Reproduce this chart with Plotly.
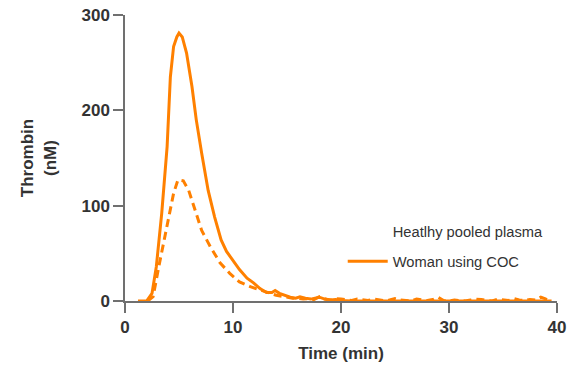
import plotly.graph_objects as go

# Woman using COC (solid)
coc_t = [1.2, 2.0, 2.5, 2.9, 3.4, 3.9, 4.2, 4.5, 4.8, 5.0, 5.3, 5.7, 6.2, 6.6, 7.1, 7.7, 8.3,
         8.9, 9.4, 10.0, 10.6, 11.3, 11.9, 12.5, 13.1, 13.6, 13.9, 14.3, 14.8, 15.3, 15.8,
         16.2, 16.7, 17.2, 17.6, 18.0, 18.5, 19.0, 19.5, 20.0, 21.0, 22.0, 23.0, 24.0,
         25.0, 26.0, 27.0, 28.0, 29.0, 30.0, 31.0, 32.0, 33.0, 34.0, 35.0, 36.0, 37.0,
         38.0, 39.0, 39.5]
coc_v = [0, 0, 8, 36, 92, 162, 235, 267, 277, 281, 277, 260, 225, 190, 155, 116, 88,
         64, 52, 43, 33, 24, 19, 13, 9, 9, 11, 8, 6, 4, 3,
         4.5, 3, 2, 3, 4, 2, 1, 1.5, 0.5, 0, 0, 0, 0,
         0, 0, 0, 0, 0, 0, 0, 0, 0, 0, 0, 0, 0,
         0, 0, 0]

# Healthy pooled plasma (dashed)
hpp_t = [2.1, 2.6, 3.2, 3.9, 4.5, 4.9, 5.4, 5.9, 6.5, 7.1, 7.9, 8.8, 9.7, 10.6, 11.6,
         12.5, 13.4, 14.0, 14.5, 15.0, 15.5, 16.0, 16.5, 17.0, 17.5, 18.0, 18.5, 19.0,
         19.5, 20.0, 20.5, 21.0, 21.5, 22.0, 22.5, 23.0, 23.5, 24.0, 24.5, 25.0, 25.5,
         26.0, 26.5, 27.0, 27.5, 28.0, 28.5, 29.0, 29.5, 30.0, 30.5, 31.0, 31.5, 32.0,
         32.5, 33.0, 33.5, 34.0, 34.5, 35.0, 35.5, 36.0, 36.5, 37.0, 37.5, 38.0, 38.5,
         39.0, 39.5]
hpp_v = [0, 4.5, 40, 81, 113, 127, 126, 116, 95, 74, 57, 40, 29, 20, 15,
         11.5, 8, 6, 5, 4, 3, 3, 2, 2.5, 1.5, 4.5, 2, 1,
         2.5, 2, 1, 0.5, 2, 1, 0.5, 2, 1.5, 0.5, 1, 2.5, 1,
         0.5, 0, 2, 1, 0.5, 1.5, 4, 0.5, 0, 1, 0.5, 0, 1,
         2, 1.5, 0.5, 0, 2, 1.5, 0.5, 2.5, 1, 0.5, 1.5, 1, 4,
         2, 0.5]

x_ticks = [0, 10, 20, 30, 40]
y_ticks = [0, 100, 200, 300]

ORANGE = "#FF8000"
TXT = "#333333"
AX = "#707070"
FONT = "Arial, Liberation Sans, sans-serif"

fig = go.Figure()
fig.add_trace(go.Scatter(x=hpp_t, y=hpp_v, mode="lines", showlegend=False,
                         line=dict(color=ORANGE, width=3, dash="8px,5px")))
fig.add_trace(go.Scatter(x=coc_t, y=coc_v, mode="lines", showlegend=False,
                         line=dict(color=ORANGE, width=3)))
# legend entries
fig.add_trace(go.Scatter(x=[None], y=[None], mode="lines", name="Heatlhy pooled plasma",
                         legendgroup="a", line=dict(color="rgba(0,0,0,0)", width=3)))
fig.add_trace(go.Scatter(x=[None], y=[None], mode="lines", name="Woman using COC",
                         legendgroup="b", line=dict(color=ORANGE, width=3)))

tickfont = dict(size=17, family=FONT, color=TXT, weight="bold")
titlefont = dict(size=17, family=FONT, color=TXT, weight="bold")

fig.update_layout(
    width=568, height=367,
    margin=dict(l=125, r=11, t=15, b=66),
    plot_bgcolor="white", paper_bgcolor="white",
    font=dict(family=FONT, color=TXT),
    legend=dict(x=0.504, y=0.19, xanchor="left", yanchor="middle",
                font=dict(size=14.7, color=TXT), bgcolor="rgba(0,0,0,0)",
                tracegroupgap=8, itemwidth=40, traceorder="grouped"),
    xaxis=dict(range=[0, 40], tickvals=x_ticks, ticks="outside", ticklen=10,
               tickwidth=1.5, tickcolor=AX, showline=True, linecolor=AX, linewidth=1.5,
               showgrid=False, zeroline=False, layer="above traces", automargin=False,
               ticklabeloverflow="allow", tickfont=tickfont,
               title=dict(text="Time (min)", font=titlefont, standoff=11)),
    yaxis=dict(range=[0, 300], tickvals=y_ticks, ticks="outside", ticklen=10,
               tickwidth=1.5, tickcolor=AX, showline=True, linecolor=AX, linewidth=1.5,
               showgrid=False, zeroline=False, layer="above traces", automargin=False,
               ticklabeloverflow="allow", tickfont=tickfont,
               title=dict(text="Thrombin<br>(nM)", font=titlefont, standoff=21)),
)

# remove the page's default 8px body margin so the figure sits at the window's corner
fig.write_html("out.html", config={"displayModeBar": False},
               post_script="document.body.style.margin='0';")
